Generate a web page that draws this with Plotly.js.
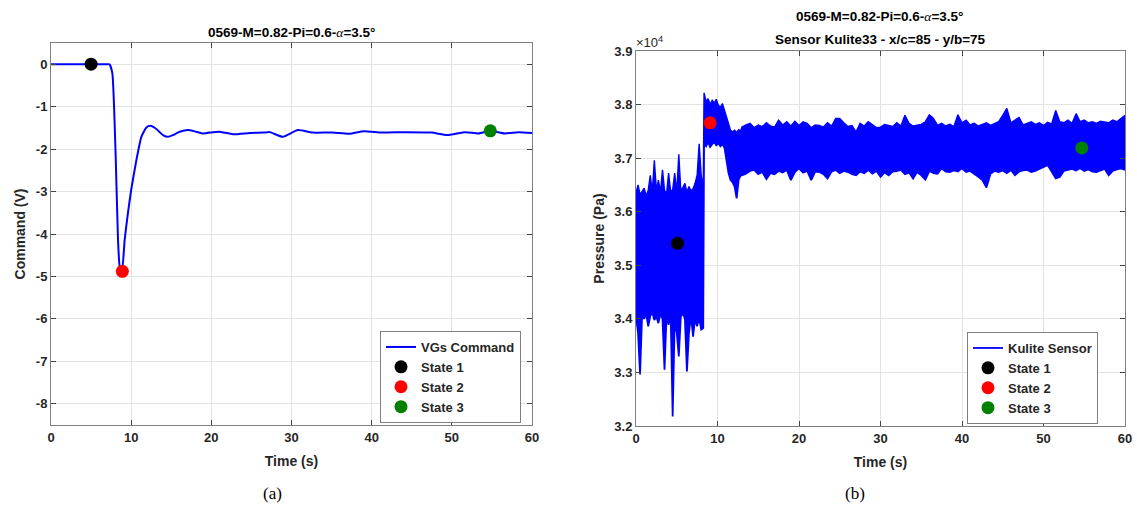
<!DOCTYPE html>
<html>
<head>
<meta charset="utf-8">
<script src="https://cdn.plot.ly/plotly-3.0.1.min.js"></script>
<style>html,body{margin:0;padding:0;background:#fff;}#chart{width:1137px;height:512px;}</style>
</head>
<body>
<div id="chart"></div>
<script>
// ---------- Panel (a): VGs command (V) vs time (s) ----------
const vgs_t = [0, 3.0, 6.0, 7.0, 7.3, 7.65, 8.07, 8.36, 8.57, 8.85, 9.19, 9.6, 10.0, 10.65, 11.27, 11.9, 12.4, 13.1, 13.97, 14.6, 15.2, 16.05, 17.1, 18.1, 19.0, 20.2, 21.0, 22.7, 24.8, 26.5, 27.3, 28.9, 30.8, 32.6, 35.1, 37.2, 39.0, 41.3, 44.2, 47.5, 49.4, 51.7, 53.3, 54.8, 56.6, 58.3, 60];
const vgs_v = [0, 0, 0, 0, 0, -0.21, -2.18, -4.14, -4.77, -4.88, -4.14, -3.5, -2.96, -2.26, -1.71, -1.49, -1.45, -1.52, -1.67, -1.71, -1.67, -1.59, -1.55, -1.59, -1.63, -1.60, -1.59, -1.65, -1.62, -1.61, -1.60, -1.71, -1.55, -1.61, -1.61, -1.64, -1.58, -1.61, -1.60, -1.61, -1.67, -1.60, -1.63, -1.57, -1.63, -1.60, -1.62];
const state_names = ['State 1', 'State 2', 'State 3'];
const state_colors = ['#000000', '#ff0000', '#008000'];
const state_t_a = [5, 8.9, 54.8];
const state_v_a = [0, -4.88, -1.57];

// ---------- Panel (b): Kulite sensor pressure (x10^4 Pa), min/max envelope ----------
const kul_t = [0, 0.25, 0.5, 0.75, 1.0, 1.25, 1.5, 1.75, 2.0, 2.25, 2.5, 2.75, 3.0, 3.25, 3.5, 3.75, 4.0, 4.25, 4.5, 4.75, 5.0, 5.25, 5.5, 5.75, 6.0, 6.25, 6.5, 6.75, 7.0, 7.25, 7.5, 7.75, 8.0, 8.25,
  8.35, 8.6, 8.85, 9.1, 9.35, 9.6, 9.85, 10.1, 10.35, 10.6, 10.85, 11.1, 11.35, 11.6, 11.85, 12.1, 12.35, 12.6, 12.85,
  13.0, 13.5, 14.0, 14.5, 15.0, 15.5, 16.0, 16.5, 17.0, 17.5, 18.0, 18.5, 19.0, 19.5, 20.0, 20.5, 21.0, 21.5, 22.0, 22.5, 23.0, 23.5, 24.0, 24.5, 25.0, 25.5, 26.0, 26.5, 27.0, 27.5, 28.0, 28.5, 29.0, 29.5, 30.0, 30.5, 31.0, 31.5, 32.0, 32.5, 33.0, 33.5, 34.0, 34.5, 35.0, 35.5, 36.0, 36.5, 37.0, 37.5, 38.0, 38.5, 39.0, 39.5, 40.0, 40.5, 41.0, 41.5, 42.0, 42.5, 43.0, 43.5, 44.0, 44.5, 45.0, 45.5, 46.0, 46.5, 47.0, 47.5, 48.0, 48.5, 49.0, 49.5, 50.0, 50.5, 51.0, 51.5, 52.0, 52.5, 53.0, 53.5, 54.0, 54.5, 55.0, 55.5, 56.0, 56.5, 57.0, 57.5, 58.0, 58.5, 59.0, 59.5, 60.0];
const kul_hi = [3.635, 3.650, 3.632, 3.638, 3.644, 3.630, 3.640, 3.668, 3.637, 3.696, 3.640, 3.659, 3.636, 3.678, 3.640, 3.634, 3.672, 3.638, 3.641, 3.672, 3.636, 3.707, 3.640, 3.645, 3.653, 3.637, 3.647, 3.639, 3.643, 3.653, 3.668, 3.727, 3.668, 3.645,
  3.822, 3.806, 3.811, 3.800, 3.808, 3.803, 3.810, 3.799, 3.795, 3.802, 3.790, 3.777, 3.765, 3.752, 3.749, 3.752, 3.748, 3.753, 3.751,
  3.758, 3.762, 3.765, 3.757, 3.762, 3.759, 3.766, 3.760, 3.758, 3.771, 3.762, 3.768, 3.760, 3.769, 3.761, 3.768, 3.765, 3.757, 3.762, 3.761, 3.758, 3.766, 3.760, 3.774, 3.774, 3.766, 3.759, 3.761, 3.749, 3.765, 3.760, 3.768, 3.762, 3.757, 3.758, 3.763, 3.761, 3.759, 3.766, 3.760, 3.780, 3.765, 3.760, 3.761, 3.763, 3.768, 3.781, 3.774, 3.761, 3.765, 3.760, 3.763, 3.759, 3.781, 3.766, 3.771, 3.762, 3.765, 3.760, 3.763, 3.766, 3.761, 3.764, 3.768, 3.780, 3.793, 3.766, 3.771, 3.776, 3.762, 3.765, 3.768, 3.763, 3.766, 3.761, 3.767, 3.764, 3.789, 3.768, 3.766, 3.771, 3.765, 3.783, 3.768, 3.771, 3.766, 3.768, 3.765, 3.769, 3.768, 3.766, 3.771, 3.768, 3.774, 3.780];
const kul_lo = [3.405, 3.374, 3.296, 3.408, 3.400, 3.410, 3.386, 3.405, 3.412, 3.398, 3.404, 3.392, 3.410, 3.400, 3.305, 3.406, 3.389, 3.412, 3.218, 3.396, 3.374, 3.330, 3.404, 3.411, 3.400, 3.302, 3.374, 3.406, 3.367, 3.400, 3.386, 3.402, 3.380, 3.383,
  3.727, 3.722, 3.730, 3.721, 3.726, 3.730, 3.724, 3.728, 3.722, 3.726, 3.720, 3.696, 3.672, 3.659, 3.655, 3.647, 3.625, 3.660, 3.668,
  3.668, 3.671, 3.676, 3.678, 3.670, 3.674, 3.661, 3.672, 3.670, 3.676, 3.673, 3.678, 3.659, 3.674, 3.681, 3.673, 3.676, 3.659, 3.675, 3.674, 3.670, 3.662, 3.675, 3.678, 3.672, 3.676, 3.674, 3.670, 3.668, 3.675, 3.672, 3.678, 3.671, 3.676, 3.665, 3.673, 3.668, 3.675, 3.676, 3.678, 3.670, 3.673, 3.662, 3.674, 3.668, 3.660, 3.676, 3.672, 3.671, 3.681, 3.675, 3.674, 3.677, 3.675, 3.681, 3.674, 3.676, 3.671, 3.665, 3.659, 3.645, 3.671, 3.676, 3.674, 3.677, 3.672, 3.678, 3.668, 3.675, 3.677, 3.678, 3.674, 3.676, 3.680, 3.683, 3.687, 3.675, 3.662, 3.665, 3.676, 3.678, 3.680, 3.677, 3.681, 3.676, 3.679, 3.675, 3.674, 3.677, 3.680, 3.668, 3.676, 3.679, 3.681, 3.678];
const state_t_b = [5.1, 9.1, 54.7];
const state_p_b = [3.541, 3.766, 3.719];

const xticks = [0, 10, 20, 30, 40, 50, 60];
const yticks_a = [0, -1, -2, -3, -4, -5, -6, -7, -8];
const yticks_b = [3.2, 3.3, 3.4, 3.5, 3.6, 3.7, 3.8, 3.9];

// ---------- styles ----------
const W = 1137, H = 512;
const px = v => v / W;
const py = v => 1 - v / H;
const FONT = 'Liberation Sans, Arial, sans-serif';
const tickFont = {family: FONT, size: 13, color: '#262626', weight: 'bold'};
const axTitleFont = {family: FONT, size: 14, color: '#262626', weight: 'bold'};
function axisStyle(extra) {
  return Object.assign({
    ticks: 'inside', ticklen: 5, tickwidth: 1, tickcolor: '#444',
    showline: true, linecolor: '#7f7f7f', linewidth: 1, mirror: 'ticks',
    showgrid: true, gridcolor: '#e3e3e3', gridwidth: 1, zeroline: false,
    tickfont: tickFont, automargin: false, fixedrange: true
  }, extra);
}

const traces = [];
traces.push({x: vgs_t, y: vgs_v, type: 'scatter', mode: 'lines', name: 'VGs Command',
  line: {color: '#0000ff', width: 2, shape: 'spline', smoothing: 0.5},
  xaxis: 'x', yaxis: 'y', legend: 'legend'});
state_names.forEach((n, i) => traces.push({x: [state_t_a[i]], y: [state_v_a[i]], type: 'scatter', mode: 'markers',
  name: n, marker: {color: state_colors[i], size: 13}, xaxis: 'x', yaxis: 'y', legend: 'legend'}));

traces.push({x: kul_t, y: kul_lo, type: 'scatter', mode: 'lines', name: 'Kulite Sensor',
  line: {color: '#0000ff', width: 1.8}, xaxis: 'x2', yaxis: 'y2', legend: 'legend2'});
traces.push({x: kul_t, y: kul_hi, type: 'scatter', mode: 'lines', name: 'Kulite Sensor max', showlegend: false,
  line: {color: '#0000ff', width: 1.4}, fill: 'tonexty', fillcolor: '#0000ff',
  xaxis: 'x2', yaxis: 'y2', legend: 'legend2'});
state_names.forEach((n, i) => traces.push({x: [state_t_b[i]], y: [state_p_b[i]], type: 'scatter', mode: 'markers',
  name: n, marker: {color: state_colors[i], size: 13}, xaxis: 'x2', yaxis: 'y2', legend: 'legend2'}));

const legendStyle = {xanchor: 'left', yanchor: 'top', bgcolor: '#ffffff', bordercolor: '#7f7f7f', borderwidth: 1,
  font: {family: FONT, size: 13, color: '#262626', weight: 'bold'}, tracegroupgap: 0, itemwidth: 30, traceorder: 'normal'};

const layout = {
  width: W, height: H, margin: {l: 0, r: 0, t: 0, b: 0},
  paper_bgcolor: '#ffffff', plot_bgcolor: '#ffffff', showlegend: true,
  xaxis: axisStyle({domain: [px(51), px(532)], range: [0, 60], tickvals: xticks, anchor: 'y',
    title: {text: 'Time (s)', font: axTitleFont, standoff: 12}}),
  yaxis: axisStyle({domain: [py(425), py(43)], range: [-8.5, 0.5], tickvals: yticks_a, ticktext: yticks_a.map(v => String(v)), anchor: 'x',
    title: {text: 'Command (V)', font: axTitleFont, standoff: 6}}),
  xaxis2: axisStyle({domain: [px(636), px(1125)], range: [0, 60], tickvals: xticks, anchor: 'y2',
    title: {text: 'Time (s)', font: axTitleFont, standoff: 12}}),
  yaxis2: axisStyle({domain: [py(426), py(51)], range: [3.2, 3.9], tickvals: yticks_b, ticktext: yticks_b.map(v => v.toFixed(1)), anchor: 'x2',
    title: {text: 'Pressure (Pa)', font: axTitleFont, standoff: 6}}),
  legend: Object.assign({x: px(380), y: py(331)}, legendStyle),
  legend2: Object.assign({x: px(967), y: py(332)}, legendStyle),
  annotations: [
    {xref: 'paper', yref: 'paper', x: px(291.5), y: py(32), xanchor: 'center', yanchor: 'middle', showarrow: false,
      text: "0569-M=0.82-Pi=0.6-<span style=\"font-family:'Liberation Serif';font-weight:normal\"><i>α</i></span>=3.5°",
      font: {family: FONT, size: 13.5, color: '#000', weight: 'bold'}},
    {xref: 'paper', yref: 'paper', x: px(880), y: py(16), xanchor: 'center', yanchor: 'middle', showarrow: false,
      text: "0569-M=0.82-Pi=0.6-<span style=\"font-family:'Liberation Serif';font-weight:normal\"><i>α</i></span>=3.5°",
      font: {family: FONT, size: 13.5, color: '#000', weight: 'bold'}},
    {xref: 'paper', yref: 'paper', x: px(880), y: py(39), xanchor: 'center', yanchor: 'middle', showarrow: false,
      text: 'Sensor Kulite33 - x/c=85 - y/b=75',
      font: {family: FONT, size: 13.5, color: '#000', weight: 'bold'}},
    {xref: 'paper', yref: 'paper', x: px(634), y: py(42), xanchor: 'left', yanchor: 'middle', showarrow: false,
      text: '×10<sup>4</sup>', font: {family: FONT, size: 13, color: '#262626'}},
    {xref: 'paper', yref: 'paper', x: px(272), y: py(493), xanchor: 'center', yanchor: 'middle', showarrow: false,
      text: '(a)', font: {family: 'Liberation Serif, Times New Roman, serif', size: 17, color: '#000'}},
    {xref: 'paper', yref: 'paper', x: px(855), y: py(493), xanchor: 'center', yanchor: 'middle', showarrow: false,
      text: '(b)', font: {family: 'Liberation Serif, Times New Roman, serif', size: 17, color: '#000'}}
  ]
};

Plotly.newPlot('chart', traces, layout, {displayModeBar: false, staticPlot: true});
</script>
</body>
</html>
